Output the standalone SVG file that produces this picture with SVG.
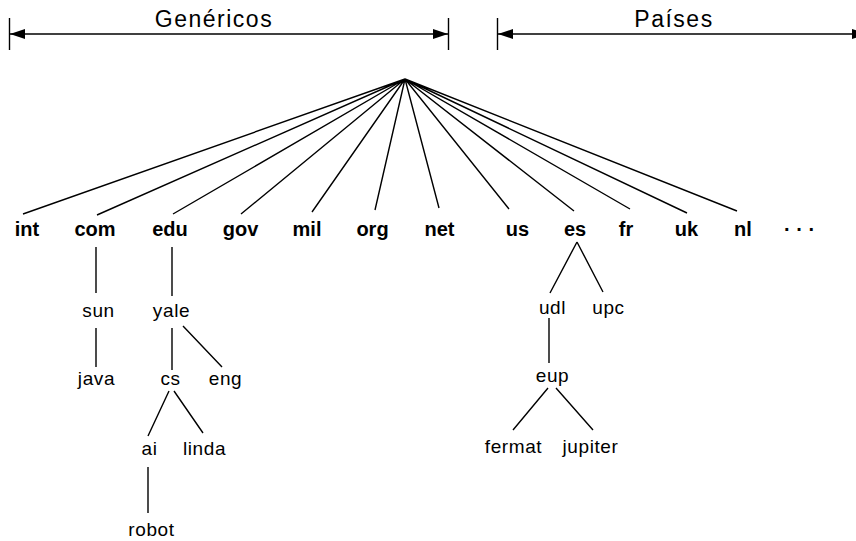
<svg xmlns="http://www.w3.org/2000/svg" width="856" height="541" viewBox="0 0 856 541">
<style>
.l{stroke:#000;stroke-width:1.4;fill:none}
.b{font-family:"Liberation Sans",Arial,sans-serif;font-weight:bold;font-size:20px;text-anchor:middle;fill:#000}
.n{font-family:"Liberation Sans",Arial,sans-serif;font-size:19px;letter-spacing:0.6px;text-anchor:middle;fill:#000}
.h{font-family:"Liberation Sans",Arial,sans-serif;font-size:23px;letter-spacing:1.5px;text-anchor:middle;fill:#000}
</style>
<defs>
<marker id="ar" markerUnits="userSpaceOnUse" markerWidth="16" markerHeight="12" refX="15" refY="6" orient="auto-start-reverse">
<path d="M0,1 L15,6 L0,11 z" fill="#000"/>
</marker>
</defs>
<rect width="856" height="541" fill="#fff"/>
<g id="ranges">
<text class="h" x="214" y="27">Genéricos</text>
<line class="l" x1="9.5" y1="18" x2="9.5" y2="50"/>
<line class="l" x1="448.5" y1="18" x2="448.5" y2="50"/>
<line class="l" x1="10" y1="34" x2="448" y2="34" marker-start="url(#ar)" marker-end="url(#ar)"/>
<text class="h" x="674" y="27">Países</text>
<line class="l" x1="497.5" y1="18" x2="497.5" y2="50"/>
<line class="l" x1="498" y1="34" x2="867" y2="34" marker-start="url(#ar)" marker-end="url(#ar)"/>
</g>
<g id="connectors">
<path class="l" d="M405,79 L23,214 M405,79 L97,215 M405,79 L173,214 M405,79 L241,214 M405,79 L312,212 M405,79 L375,210 M405,79 L439,208 M405,79 L509,209 M405,79 L574,211 M405,79 L630,209 M405,79 L687,213 M405,79 L737,211"/>
<path class="l" d="M96,247 V293 M96,328 V367 M172,247 V296 M172,328 V370 M183,326 L222,367 M169,391 L148,436 M174,391 L203,433 M148,467 V513"/>
<path class="l" d="M577,242 L550,293 M577,242 L603,292 M549,318 V363 M548,388 L513,430 M556,388 L593,430"/>
</g>
<g id="n-int"><text class="b" x="27" y="236">int</text></g>
<g id="n-com"><text class="b" x="95" y="236">com</text></g>
<g id="n-edu"><text class="b" x="170" y="236">edu</text></g>
<g id="n-gov"><text class="b" x="240.5" y="236">gov</text></g>
<g id="n-mil"><text class="b" x="307" y="236">mil</text></g>
<g id="n-org"><text class="b" x="372.5" y="236">org</text></g>
<g id="n-net"><text class="b" x="439.5" y="236">net</text></g>
<g id="n-us"><text class="b" x="517.5" y="236">us</text></g>
<g id="n-es"><text class="b" x="575" y="236">es</text></g>
<g id="n-fr"><text class="b" x="626" y="236">fr</text></g>
<g id="n-uk"><text class="b" x="686.5" y="236">uk</text></g>
<g id="n-nl"><text class="b" x="743" y="236">nl</text></g>
<g id="n-more"><text class="b" x="799.5" y="236">· · ·</text></g>
<g id="n-sun"><text class="n" x="98.5" y="317">sun</text></g>
<g id="n-yale"><text class="n" x="171.5" y="317">yale</text></g>
<g id="n-java"><text class="n" x="96.5" y="385">java</text></g>
<g id="n-cs"><text class="n" x="170.5" y="385">cs</text></g>
<g id="n-eng"><text class="n" x="225.5" y="385">eng</text></g>
<g id="n-ai"><text class="n" x="149.5" y="455">ai</text></g>
<g id="n-linda"><text class="n" x="204.5" y="455">linda</text></g>
<g id="n-robot"><text class="n" x="151.5" y="536">robot</text></g>
<g id="n-udl"><text class="n" x="552.5" y="314">udl</text></g>
<g id="n-upc"><text class="n" x="608.5" y="314">upc</text></g>
<g id="n-eup"><text class="n" x="552.5" y="382">eup</text></g>
<g id="n-fermat"><text class="n" x="513.5" y="453">fermat</text></g>
<g id="n-jupiter"><text class="n" x="590.5" y="453">jupiter</text></g>
</svg>
